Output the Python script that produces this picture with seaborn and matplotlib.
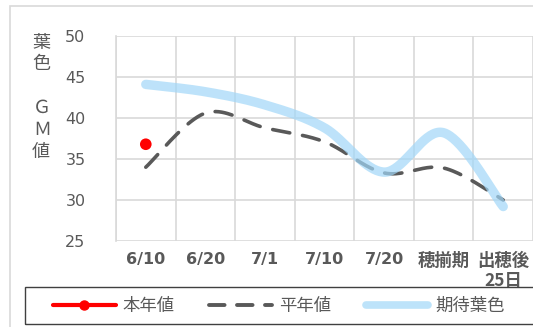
import numpy as np
import pandas as pd
import matplotlib
matplotlib.use("Agg")
import matplotlib.pyplot as plt
import seaborn as sns
from matplotlib.lines import Line2D
from matplotlib.patches import Rectangle

categories = ["6/10", "6/20", "7/1", "7/10", "7/20", "穂揃期", "出穂後\n25日"]
this_year = [36.8, None, None, None, None, None, None]
normal_year = [34.0, 40.6, 38.8, 37.1, 33.3, 33.9, 30.0]
expected = [44.1, 43.2, 41.6, 38.8, 33.4, 38.2, 29.2]
y_ticks = [25, 30, 35, 40, 45, 50]

sns.set_theme(style="whitegrid")
FONT = ["DejaVu Sans", "Noto Sans CJK JP"]
CJK = ["Noto Sans CJK JP", "DejaVu Sans"]
plt.rcParams["font.family"] = FONT

GRID = "#d9d9d9"
TXT = "#595959"


def smooth(xs, ys, n=40):
    pts = np.column_stack([xs, ys]).astype(float)
    P = np.vstack([pts[0], pts, pts[-1]])
    out = []
    t = np.linspace(0, 1, n, endpoint=False)[:, None]
    for i in range(1, len(P) - 2):
        p0, p1, p2, p3 = P[i - 1], P[i], P[i + 1], P[i + 2]
        seg = 0.5 * ((2 * p1) + (-p0 + p2) * t + (2 * p0 - 5 * p1 + 4 * p2 - p3) * t ** 2
                     + (-p0 + 3 * p1 - 3 * p2 + p3) * t ** 3)
        out.append(seg)
    out.append(pts[-1:])
    arr = np.vstack(out)
    return arr[:, 0], arr[:, 1]


xpos = np.arange(len(categories))
nx, ny = smooth(xpos, normal_year)
ex, ey = smooth(xpos, expected)
df_n = pd.DataFrame({"x": nx, "y": ny})
df_e = pd.DataFrame({"x": ex, "y": ey})
df_t = pd.DataFrame({"x": xpos, "y": this_year}).dropna()

W, H = 533, 327
fig = plt.figure(figsize=(W / 100, H / 100), dpi=100)
ax = fig.add_axes([116 / W, 1 - 241 / H, (533 - 116) / W, (241 - 36) / H])

sns.lineplot(data=df_n, x="x", y="y", ax=ax, sort=False, color="#595959", lw=2.6,
             zorder=3)
ax.lines[-1].set_dashes((4.8, 3.6))
ax.lines[-1].set_dash_capstyle("round")
sns.lineplot(data=df_e, x="x", y="y", ax=ax, sort=False, color=(161 / 255, 215 / 255, 248 / 255),
             alpha=0.7, lw=6.8, zorder=4, solid_capstyle="round")
sns.scatterplot(data=df_t, x="x", y="y", ax=ax, color="#ff0000", s=70, edgecolor="none",
                zorder=5)

ax.set_xlim(-0.5, 6.45)
ax.set_ylim(25, 50)
ax.set_yticks(y_ticks)
ax.set_xticks(xpos)
ax.set_xticklabels(categories, fontweight="bold", fontsize=11.5, color=TXT,
                   linespacing=1.15, va="top", family=FONT)
for lbl in ax.get_xticklabels():
    if not lbl.get_text()[0].isdigit():
        lbl.set_fontsize(12.5)
        lbl.set_family(CJK)
ax.set_yticklabels([str(v) for v in y_ticks], fontsize=11.5, color=TXT)
ax.set_xticks(np.arange(-0.5, 6.6, 1.0), minor=True)
ax.tick_params(axis="x", which="both", length=0, pad=8)
ax.tick_params(axis="y", length=0, pad=22)
ax.grid(False)
ax.grid(True, axis="y", which="major", color=GRID, lw=1.2)
ax.grid(True, axis="x", which="minor", color=GRID, lw=1.2)
ax.set_xlabel("")
ax.set_ylabel("")
for s in ["top", "right", "bottom"]:
    ax.spines[s].set_visible(False)
ax.spines["left"].set_color(GRID)
ax.spines["left"].set_linewidth(1.2)
ax.set_facecolor("white")

# vertical y label
for ch, (x, y) in zip(["葉", "色", "Ｇ", "Ｍ", "値"],
                      [(41, 43), (41, 64), (42, 108), (42, 130), (41, 152)]):
    fig.text(x / W, 1 - y / H, ch, ha="center", va="center", fontsize=13, color=TXT,
             family=CJK)

# outer chart border
fig.patches.append(Rectangle((10 / W, 1 - 340 / H), 540 / W, 334 / H, transform=fig.transFigure,
                             fill=False, ec=GRID, lw=1.2))
# legend box
fig.patches.append(Rectangle((25 / W, 1 - 324 / H), 540 / W, 37 / H, transform=fig.transFigure,
                             fill=False, ec="#404040", lw=1.0))

handles = [
    Line2D([], [], color="#ff0000", lw=3.0, marker="o", markersize=6.5),
    Line2D([], [], color="#595959", lw=2.8, dashes=(4.0, 3.2), dash_capstyle="round"),
    Line2D([], [], color=(189 / 255, 227 / 255, 250 / 255), lw=5.5, solid_capstyle="round"),
]
leg = fig.legend(handles, ["本年値", "平年値", "期待葉色"], ncol=3, frameon=False,
                 loc="center left", bbox_to_anchor=(53 / W, 1 - 306 / H),
                 fontsize=12.5, handlelength=3.6, handletextpad=0.4, columnspacing=2.0,
                 borderaxespad=0, borderpad=0)
for t in leg.get_texts():
    t.set_color(TXT)
    t.set_family(CJK)

fig.savefig("out.png", dpi=100, facecolor="white")
